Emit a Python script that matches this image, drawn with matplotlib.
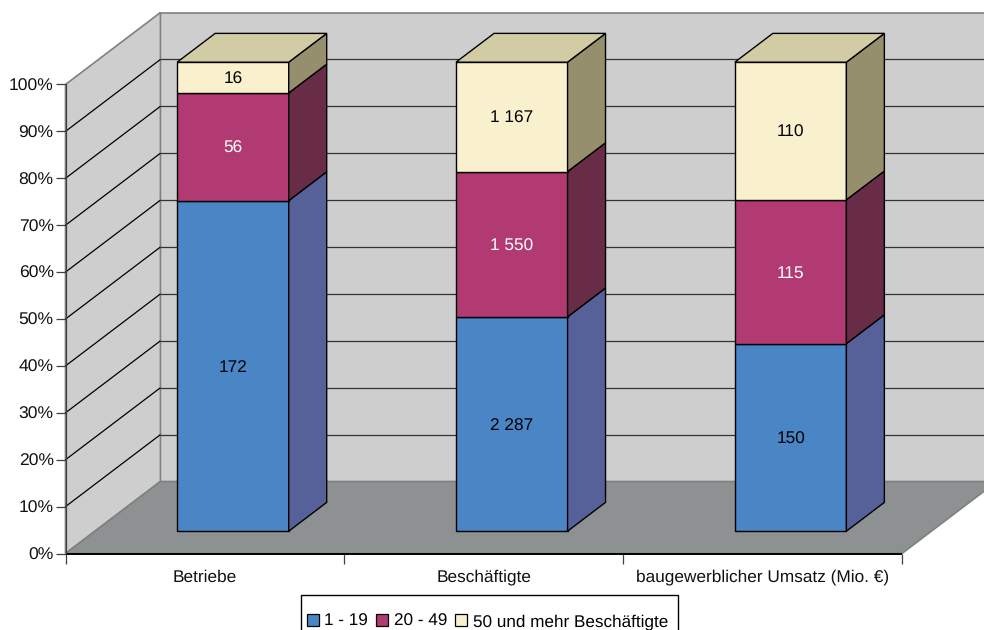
import numpy as np
import matplotlib
matplotlib.use("Agg")
import matplotlib.pyplot as plt
from matplotlib.patches import Polygon, Patch, Rectangle

plt.rcParams['font.family'] = ['Liberation Sans', 'DejaVu Sans']
plt.rcParams['text.hinting'] = 'none'

kategorien = ["Betriebe", "Beschäftigte", "baugewerblicher Umsatz (Mio. €)"]
klassen = ["1 - 19", "20 - 49", "50 und mehr Beschäftigte"]
klein = [172, 2287, 150]
mittel = [56, 1550, 115]
gross = [16, 1167, 110]
beschriftung_klein = ["172", "2 287", "150"]
beschriftung_mittel = ["56", "1 550", "115"]
beschriftung_gross = ["16", "1 167", "110"]

# Farben: Vorderseite, rechte Seite, Deckel
farben = [("#4A86C5", "#566099", "#4A86C5"),
          ("#B23A72", "#692C46", "#8A3058"),
          ("#F9F0CD", "#958F6E", "#D2CCA4")]
textfarben = ["black", "white", "black"]

# Schraegprojektion: Tiefe 1 entspricht diesem Versatz in Datenkoordinaten
TIEFE_X = 95 / 279
TIEFE_Y = 72 / 4.69
SAEULE_B = 0.4
SAEULE_T1 = 0.31
SAEULE_T2 = 0.71
SAEULE_MITTE = 0.495


def proj(x, tiefe, y):
    return (x + tiefe * TIEFE_X, y + tiefe * TIEFE_Y)


fig = plt.figure(figsize=(9.84, 6.30), dpi=100)
ax = fig.add_axes([65.5 / 984, (630 - 553.5) / 630, (902 - 65.5) / 984, 469 / 630])
ax.set_xlim(0, 3)
ax.set_ylim(0, 100)
for s in ax.spines.values():
    s.set_visible(False)
ax.patch.set_visible(False)


def flaeche(punkte, farbe, rand="black", lw=1.0, z=1):
    ax.add_patch(Polygon([proj(*p) for p in punkte], closed=True, facecolor=farbe,
                         edgecolor=rand, linewidth=lw, clip_on=False, zorder=z,
                         joinstyle="miter"))


def linie(p1, p2, farbe="black", lw=1.0, z=2):
    a, b = proj(*p1), proj(*p2)
    ax.plot([a[0], b[0]], [a[1], b[1]], color=farbe, lw=lw, clip_on=False, zorder=z,
            solid_capstyle="butt")


# Waende und Boden
flaeche([(0, 1, 0), (3, 1, 0), (3, 1, 100), (0, 1, 100)], "#CECECE", "#808080", 1.2)
flaeche([(0, 0, 0), (0, 1, 0), (0, 1, 100), (0, 0, 100)], "#CECECE", "#808080", 1.2)
flaeche([(0, 0, 0), (3, 0, 0), (3, 1, 0), (0, 1, 0)], "#8E9191", "#808080", 1.2)

# Gitternetz auf Seiten- und Rueckwand
for w in range(10, 100, 10):
    linie((0, 0, w), (0, 1, w), lw=0.9)
    linie((0, 1, w), (3, 1, w), farbe="#333333", lw=0.9)

# Achsenlinien vorne
linie((0, 0, 0), (3, 0, 0), lw=1.4, z=3)
linie((0, 0, 0), (0, 0, 100), farbe="#404040", lw=0.9, z=3)

# Gestapelte Saeulen, jeweils auf 100 % normiert
reihen = np.array([klein, mittel, gross], dtype=float)
anteile = reihen / reihen.sum(axis=0) * 100
texte = [beschriftung_klein, beschriftung_mittel, beschriftung_gross]

for i in range(len(kategorien)):
    links = i + SAEULE_MITTE - SAEULE_B / 2
    rechts = i + SAEULE_MITTE + SAEULE_B / 2
    unten = 0.0
    for j in range(3):
        oben = unten + anteile[j, i]
        vorn, seite, deckel = farben[j]
        flaeche([(links, SAEULE_T1, unten), (rechts, SAEULE_T1, unten),
                 (rechts, SAEULE_T1, oben), (links, SAEULE_T1, oben)], vorn, z=5)
        flaeche([(rechts, SAEULE_T1, unten), (rechts, SAEULE_T2, unten),
                 (rechts, SAEULE_T2, oben), (rechts, SAEULE_T1, oben)], seite, z=5)
        if j == 2:
            flaeche([(links, SAEULE_T1, oben), (rechts, SAEULE_T1, oben),
                     (rechts, SAEULE_T2, oben), (links, SAEULE_T2, oben)], deckel, z=5)
        tx, ty = proj(i + SAEULE_MITTE, SAEULE_T1, (unten + oben) / 2)
        # annotation_clip aus, sonst fehlt die Beschriftung oberhalb von 100 %
        ax.annotate(texte[j][i], (tx, ty), xytext=(0, -1.4), textcoords="offset points",
                    ha="center", va="center", fontsize=12.4, color=textfarben[j], zorder=6,
                    annotation_clip=False)
        unten = oben

# Achsen: Prozentskala links, Kategorien zwischen den Teilstrichen
ax.set_yticks(np.arange(0, 101, 10))
ax.set_yticklabels([f"{w}%" for w in range(0, 101, 10)], fontsize=12.6, color="#111111")
ax.set_xticks([0, 1, 2, 3])
ax.set_xticklabels([])
ax.set_xticks([0.5, 1.5, 2.5], minor=True)
ax.set_xticklabels(kategorien, minor=True, fontsize=12.4, color="#111111")
ax.tick_params(axis="y", length=7, width=0.9, color="#404040", pad=1.5)
ax.tick_params(axis="x", which="major", length=7, width=0.9, color="#404040")
ax.tick_params(axis="x", which="minor", length=0, pad=11.5)

# Legende unten, Rahmen laeuft ueber den unteren Bildrand hinaus
fig.add_artist(Rectangle((301 / 984, -5 / 630), 376.5 / 984, 40 / 630, transform=fig.transFigure,
                         facecolor="white", edgecolor="black", linewidth=1.0))
griffe = [Patch(facecolor=farben[k][0], edgecolor="black", linewidth=0.9, label=klassen[k])
          for k in range(3)]
leg = fig.legend(handles=griffe, loc="lower left", bbox_to_anchor=(307 / 984, 0.5 / 630),
                 ncol=3, frameon=False, fontsize=12.3, handlelength=0.7, handleheight=0.7,
                 handletextpad=0.3, columnspacing=0.5, borderpad=0, borderaxespad=0)

fig.savefig("out.png", dpi=100)
